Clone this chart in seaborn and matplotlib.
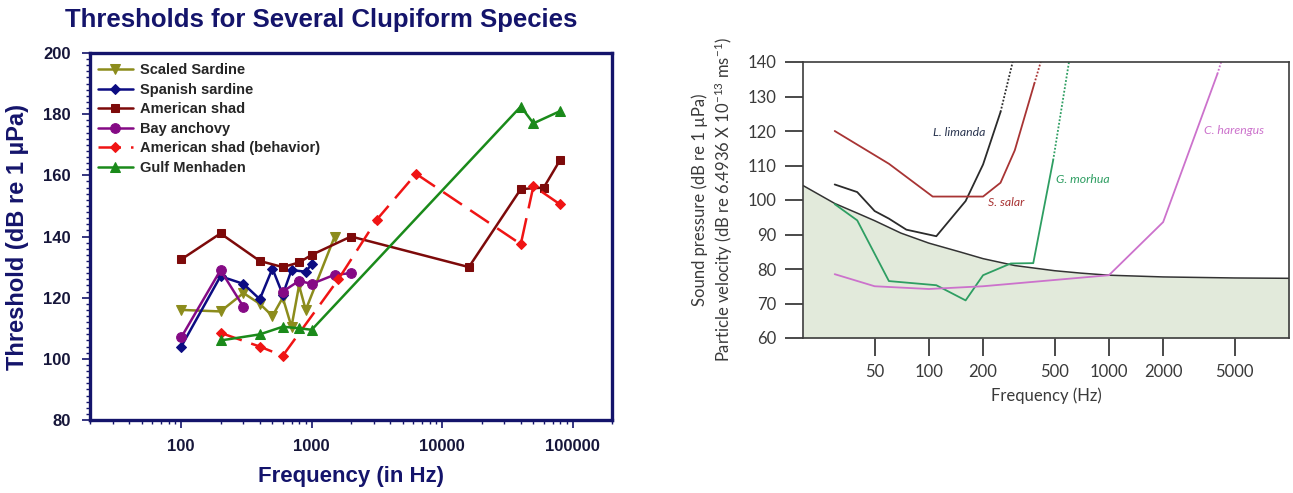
import seaborn as sns
import matplotlib.pyplot as plt
import matplotlib.ticker as mticker
import numpy as np
import pandas as pd

# ---- left panel data (clupeiform thresholds) ----
sardine_hz = [100, 200, 300, 400, 500, 600, 700, 800, 900, 1500]
sardine_db = [116, 115.5, 121.5, 118, 114, 120, 110.5, 124, 116, 140]

spanish_hz = [100, 200, 300, 400, 500, 600, 700, 900, 1000]
spanish_db = [104, 127, 124.5, 119.5, 129.5, 121, 129, 128.5, 131]

shad_hz = [100, 200, 400, 600, 800, 1000, 2000, 16000, 40000, 60000, 80000]
shad_db = [132.5, 141, 132, 130, 131.5, 134, 140, 130, 155.5, 156, 165]

anchovy_hz_a = [100, 200, 300]
anchovy_db_a = [107, 129, 117]
anchovy_hz_b = [600, 800, 1000, 1500, 2000]
anchovy_db_b = [122, 125.5, 124.5, 127.5, 128]

behav_hz = [200, 400, 600, 1600, 3150, 6300, 40000, 50000, 80000]
behav_db = [108.5, 104, 101, 126, 145.5, 160.5, 137.5, 156.5, 150.5]

menhaden_hz = [200, 400, 600, 800, 1000, 40000, 50000, 80000]
menhaden_db = [106, 108, 110.5, 110, 109.5, 182.5, 177, 181]

# ---- right panel data (audiograms) ----
ambient_hz = [20, 30, 40, 50, 70, 100, 150, 200, 300, 500, 700, 1000, 2000, 5000, 10000]
ambient_db = [104.2, 99, 96.2, 94, 90.4, 87.5, 84.9, 83, 81, 79.5, 78.8, 78.2, 77.7, 77.4, 77.3]

limanda_hz = [30, 40, 50, 60, 75, 110, 160, 200, 250]
limanda_db = [104.5, 102.3, 96.8, 94.6, 91.4, 89.5, 99.7, 110.3, 125.5]
limanda_dot_hz = [250, 292]
limanda_dot_db = [125.5, 140]

salar_hz = [30, 60, 105, 200, 250, 300, 385]
salar_db = [120, 110.5, 101, 101, 105, 114.4, 133.7]
salar_dot_hz = [385, 418]
salar_dot_db = [133.7, 140]

morhua_hz = [30, 40, 60, 110, 160, 200, 285, 380, 490]
morhua_db = [98.8, 94.1, 76.5, 75.3, 70.9, 78.2, 81.6, 81.7, 111.5]
morhua_dot_hz = [490, 600]
morhua_dot_db = [111.5, 140]

harengus_hz = [30, 50, 100, 200, 1000, 2000, 4000]
harengus_db = [78.5, 75, 74.2, 75, 78.2, 93.6, 136.5]
harengus_dot_hz = [4000, 4200]
harengus_dot_db = [136.5, 140]

sns.set_style("ticks")
plt.rcParams['font.family'] = ['Liberation Sans', 'DejaVu Sans']
plt.rcParams['mathtext.fontset'] = 'custom'
plt.rcParams['mathtext.rm'] = 'Lato'
plt.rcParams['mathtext.it'] = 'Lato:italic'

fig = plt.figure(figsize=(12.93, 4.93), dpi=100)
W, H = 1293, 493
ax = fig.add_axes([90 / W, 1 - 420 / H, 522 / W, 367 / H])
ax2 = fig.add_axes([803 / W, 1 - 338 / H, 486 / W, 276 / H])

navy = '#14146b'

#%% left panel
def series(xs, ys, col, mk, lab, ls='-', ms=6):
    sns.lineplot(x=xs, y=ys, ax=ax, color=col, marker=mk, markersize=ms,
                 markeredgecolor=col, linewidth=1.8, linestyle=ls, sort=False)
    ln = ax.lines[-1]
    ln.set_label(lab)
    return ln

handles = []
handles.append(series(sardine_hz, sardine_db, '#8c8c1c', 'v', 'Scaled Sardine', ms=7))
handles.append(series(spanish_hz, spanish_db, '#0c0c82', 'D', 'Spanish sardine', ms=5.5))
handles.append(series(shad_hz, shad_db, '#7d0a0a', 's', 'American shad', ms=6))
handles.append(series(anchovy_hz_a, anchovy_db_a, '#850a85', 'o', 'Bay anchovy', ms=7))
series(anchovy_hz_b, anchovy_db_b, '#850a85', 'o', '_nolegend_', ms=7)
handles.append(series(behav_hz, behav_db, '#f01414', 'D', 'American shad (behavior)', ls=(0, (9, 4)), ms=5.5))
handles.append(series(menhaden_hz, menhaden_db, '#1a8a1a', '^', 'Gulf Menhaden', ms=7))

ax.set_xscale('log')
ax.set_xlim(20, 200000)
ax.set_ylim(80, 200)
ax.set_yticks(np.arange(80, 201, 20))
ax.yaxis.set_minor_locator(mticker.MultipleLocator(2))
ax.xaxis.set_major_locator(mticker.FixedLocator([100, 1000, 10000, 100000]))
ax.xaxis.set_major_formatter(mticker.FixedFormatter(['100', '1000', '10000', '100000']))
ax.xaxis.set_minor_locator(mticker.LogLocator(base=10, subs=np.arange(2, 10)))
ax.xaxis.set_minor_formatter(mticker.NullFormatter())
for s in ax.spines.values():
    s.set_color(navy)
    s.set_linewidth(2.4)
    s.set_visible(True)
ax.tick_params(which='major', direction='out', length=6, width=1.2, color=navy,
               labelsize=12, labelcolor='#16163a')
ax.tick_params(which='minor', direction='out', length=3, width=1, color=navy)
ax.tick_params(axis='x', which='major', pad=8)
ax.tick_params(axis='y', which='major', pad=8)
for t in ax.get_xticklabels() + ax.get_yticklabels():
    t.set_fontweight('bold')
ax.set_xlabel('Frequency (in Hz)', fontsize=16, fontweight='bold', color=navy, labelpad=8)
ax.set_ylabel('Threshold (dB re 1 µPa)', fontsize=17, fontweight='bold', color=navy, labelpad=10)
fig.text(321 / W, 1 - 20 / H, 'Thresholds for Several Clupiform Species', ha='center', va='center',
         fontsize=18.5, fontweight='bold', color=navy)

leg = ax.legend(handles=handles, loc='upper left', bbox_to_anchor=(-0.005, 1.0), frameon=False,
                handlelength=2.4, handletextpad=0.5, labelspacing=0.38, borderaxespad=0.3,
                prop={'weight': 'bold', 'size': 10.5})

#%% right panel
ax2.fill_between(ambient_hz, ambient_db, 60, color='#e2eadb', linewidth=0)
sns.lineplot(x=ambient_hz, y=ambient_db, ax=ax2, color='#333333', linewidth=1.1)

def curve(xs, ys, dx, dy, col):
    sns.lineplot(x=xs, y=ys, ax=ax2, color=col, linewidth=1.3)
    sns.lineplot(x=dx, y=dy, ax=ax2, color=col, linewidth=1.3, linestyle=(0, (1, 1)))

curve(limanda_hz, limanda_db, limanda_dot_hz, limanda_dot_db, '#2b2b2b')
curve(salar_hz, salar_db, salar_dot_hz, salar_dot_db, '#a83434')
curve(morhua_hz, morhua_db, morhua_dot_hz, morhua_dot_db, '#2e9e62')
curve(harengus_hz, harengus_db, harengus_dot_hz, harengus_dot_db, '#cc72cc')

lab_kw = dict(fontfamily='Lato', fontstyle='italic', fontsize=8.8, ha='center', va='center')
ax2.text(147, 119.7, 'L. limanda', color='#2a3550', **lab_kw)
ax2.text(268, 99.4, 'S. salar', color='#a83434', **lab_kw)
ax2.text(716, 106, 'G. morhua', color='#2e9e62', **lab_kw)
ax2.text(4970, 120, 'C. harengus', color='#cc72cc', **lab_kw)

ax2.set_xscale('log')
ax2.set_xlim(20, 10000)
ax2.set_ylim(60, 140)
ax2.set_yticks(np.arange(60, 141, 10))
ax2.xaxis.set_major_locator(mticker.FixedLocator([50, 100, 200, 500, 1000, 2000, 5000]))
ax2.xaxis.set_major_formatter(mticker.FixedFormatter(['50', '100', '200', '500', '1000', '2000', '5000']))
ax2.xaxis.set_minor_locator(mticker.NullLocator())
for s in ax2.spines.values():
    s.set_color('#3c3c3c')
    s.set_linewidth(1.2)
    s.set_visible(True)
ax2.tick_params(which='major', direction='out', length=13, width=1.3, color='#3c3c3c',
                labelsize=12, labelcolor='#3a3a3a', pad=6)
for t in ax2.get_xticklabels() + ax2.get_yticklabels():
    t.set_fontfamily('Lato')
ax2.set_xlabel('Frequency (Hz)', fontfamily='Lato', fontsize=12, color='#3a3a3a', labelpad=5)
ax2.set_ylabel('Sound pressure (dB re 1 µPa)\nParticle velocity (dB re 6.4936 X 10$^{-13}$ ms$^{-1}$)',
               fontfamily='Lato', fontsize=12, color='#3a3a3a', labelpad=9, linespacing=1.25)

fig.savefig('out.png', dpi=100)
